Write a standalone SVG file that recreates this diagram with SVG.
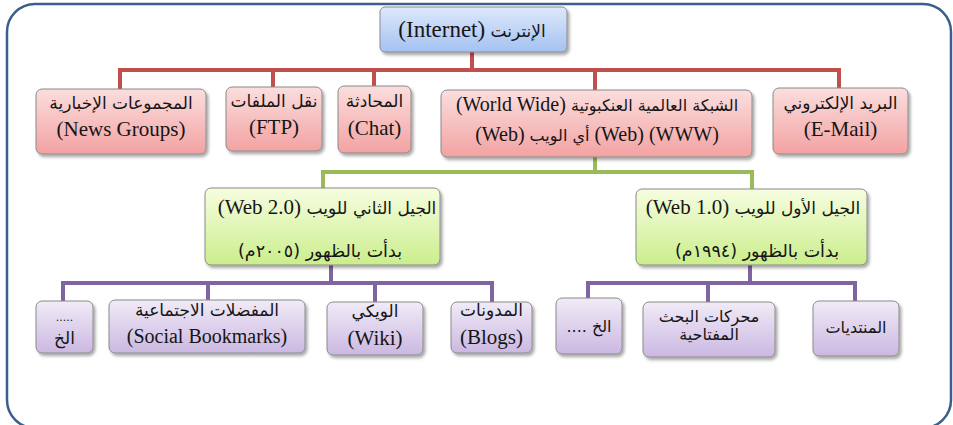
<svg xmlns="http://www.w3.org/2000/svg" width="953" height="425" viewBox="0 0 953 425">
<defs>
<linearGradient id="gBlue" x1="0" y1="0" x2="0" y2="1"><stop offset="0" stop-color="#dde8fb"/><stop offset="1" stop-color="#a4c2f2"/></linearGradient>
<linearGradient id="gRed" x1="0" y1="0" x2="0" y2="1"><stop offset="0" stop-color="#fbdede"/><stop offset="1" stop-color="#f3a2a2"/></linearGradient>
<linearGradient id="gGreen" x1="0" y1="0" x2="0" y2="1"><stop offset="0" stop-color="#f6fde0"/><stop offset="1" stop-color="#cbee8c"/></linearGradient>
<linearGradient id="gPurple" x1="0" y1="0" x2="0" y2="1"><stop offset="0" stop-color="#f1ebf7"/><stop offset="1" stop-color="#cbb8e2"/></linearGradient>
<filter id="sh" x="-10%" y="-10%" width="125%" height="135%"><feDropShadow dx="2" dy="2.5" stdDeviation="1.5" flood-color="#000" flood-opacity="0.35"/></filter>
</defs>
<style>
.box{stroke:#8a8a8a;stroke-width:1;filter:url(#sh)}
.blue{fill:url(#gBlue)}
.red{fill:url(#gRed)}
.green{fill:url(#gGreen)}
.purple{fill:url(#gPurple)}
.conn path{fill:none;stroke-width:4}
.r{stroke:#c0504d}
.g{stroke:#9bbb59}
.p{stroke:#8064a2}
</style>
<rect x="7" y="4" width="944" height="424" rx="28" fill="#fff" stroke="#3b5f8c" stroke-width="2.5"/>
<g id="connectors" class="conn">
<path class="r" d="M472,52V70M118,70H841M120,70V89M273,70V87M374,70V86M595,70V90M839,70V88"/>
<path class="g" d="M595,157V172M321,172H754M323,172V188M752,172V189"/>
<path class="p" d="M331,265V283M61,283H494M63,283V301M208,283V300M375,283V302M492,283V302"/>
<path class="p" d="M750,265V283M586,283H857M588,283V298M708,283V302M855,283V301"/>
</g>
<g text-anchor="middle" fill="#151515">
<g id="internet"><rect class="box blue" x="380" y="7" width="187" height="45" rx="5"/>
<text x="472" y="37"><tspan font-family="Liberation Serif, serif" font-size="23">(Internet)</tspan><tspan font-family="DejaVu Sans, sans-serif" font-size="17">   الإنترنت</tspan></text></g>
<g id="newsgroups"><rect class="box red" x="36" y="89" width="170" height="65" rx="6"/>
<text font-family="DejaVu Sans, sans-serif" font-size="17" x="121" y="109">المجموعات الإخبارية</text>
<text font-family="Liberation Serif, serif" font-size="21" x="121" y="136">(News Groups)</text></g>
<g id="ftp"><rect class="box red" x="226" y="87" width="96" height="64" rx="6"/>
<text font-family="DejaVu Sans, sans-serif" font-size="17" x="274" y="107">نقل الملفات</text>
<text font-family="Liberation Serif, serif" font-size="21" x="274" y="134">(FTP)</text></g>
<g id="chat"><rect class="box red" x="338" y="86" width="73" height="67" rx="6"/>
<text font-family="DejaVu Sans, sans-serif" font-size="17" x="374.5" y="107">المحادثة</text>
<text font-family="Liberation Serif, serif" font-size="21" x="374.5" y="135">(Chat)</text></g>
<g id="www"><rect class="box red" x="441" y="90" width="311" height="67" rx="6"/>
<text x="597" y="111"><tspan font-family="Liberation Serif, serif" font-size="20">(World Wide)</tspan><tspan font-family="DejaVu Sans, sans-serif" font-size="16">  الشبكة العالمية العنكبوتية</tspan></text>
<text x="597" y="141"><tspan font-family="Liberation Serif, serif" font-size="20">(Web) </tspan><tspan font-family="DejaVu Sans, sans-serif" font-size="16">أي الويب</tspan><tspan font-family="Liberation Serif, serif" font-size="20"> (Web) (WWW)</tspan></text></g>
<g id="email"><rect class="box red" x="773" y="88" width="135" height="66" rx="6"/>
<text font-family="DejaVu Sans, sans-serif" font-size="17" x="840.5" y="109">البريد الإلكتروني</text>
<text font-family="Liberation Serif, serif" font-size="21" x="840.5" y="136">(E-Mail)</text></g>
<g id="web2"><rect class="box green" x="205" y="188" width="235" height="77" rx="6"/>
<text x="327" y="214"><tspan font-family="Liberation Serif, serif" font-size="21">(Web 2.0)</tspan><tspan font-family="DejaVu Sans, sans-serif" font-size="17"> الجيل الثاني للويب</tspan></text>
<text font-family="DejaVu Sans, sans-serif" font-size="17.5" x="320" y="257">(٢٠٠٥م) بدأت بالظهور</text></g>
<g id="web1"><rect class="box green" x="636" y="189" width="231" height="76" rx="6"/>
<text x="753" y="214"><tspan font-family="Liberation Serif, serif" font-size="21">(Web 1.0)</tspan><tspan font-family="DejaVu Sans, sans-serif" font-size="17"> الجيل الأول للويب</tspan></text>
<text font-family="DejaVu Sans, sans-serif" font-size="17.5" x="757" y="257">(١٩٩٤م) بدأت بالظهور</text></g>
<g id="etc-left"><rect class="box purple" x="36" y="301" width="57" height="52" rx="6"/>
<text font-family="DejaVu Sans, sans-serif" font-size="11" x="64.5" y="321">.....</text>
<text font-family="DejaVu Sans, sans-serif" font-size="17" x="64.5" y="344">الخ</text></g>
<g id="social"><rect class="box purple" x="109" y="300" width="196" height="53" rx="6"/>
<text font-family="DejaVu Sans, sans-serif" font-size="17" x="207" y="316">المفضلات الاجتماعية</text>
<text font-family="Liberation Serif, serif" font-size="20" x="207" y="343">(Social Bookmarks)</text></g>
<g id="wiki"><rect class="box purple" x="327" y="302" width="96" height="53" rx="6"/>
<text font-family="DejaVu Sans, sans-serif" font-size="17" x="375" y="317">الويكي</text>
<text font-family="Liberation Serif, serif" font-size="21" x="375" y="345">(Wiki)</text></g>
<g id="blogs"><rect class="box purple" x="451" y="302" width="81" height="51" rx="6"/>
<text font-family="DejaVu Sans, sans-serif" font-size="17" x="491.5" y="316">المدونات</text>
<text font-family="Liberation Serif, serif" font-size="21" x="491.5" y="344">(Blogs)</text></g>
<g id="etc-right"><rect class="box purple" x="556" y="298" width="66" height="56" rx="6"/>
<text font-family="DejaVu Sans, sans-serif" font-size="16" x="589" y="332">.... الخ</text></g>
<g id="search"><rect class="box purple" x="643" y="302" width="132" height="55" rx="6"/>
<text font-family="DejaVu Sans, sans-serif" font-size="16" x="709" y="322">محركات البحث</text>
<text font-family="DejaVu Sans, sans-serif" font-size="16" x="709" y="340">المفتاحية</text></g>
<g id="forums"><rect class="box purple" x="813" y="301" width="86" height="55" rx="6"/>
<text font-family="DejaVu Sans, sans-serif" font-size="16" x="856" y="333">المنتديات</text></g>
</g>
</svg>
